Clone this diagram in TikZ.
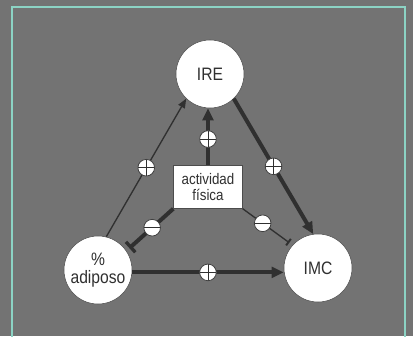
\documentclass[tikz,border=0pt]{standalone}
\usepackage{fontspec}
\setmainfont{Liberation Sans}[FakeStretch=0.87]
\usetikzlibrary{arrows.meta}

\definecolor{bggray}{RGB}{115,115,115}
\definecolor{framecol}{RGB}{140,211,196}
\definecolor{linecol}{RGB}{48,48,48}

\tikzset{
  var/.style={circle,draw=gray!60!black,fill=white,minimum size=51pt,inner sep=0pt,text=linecol,font=\fontsize{13.5}{13.5}\selectfont,align=center},
  factor/.style={rectangle,draw=gray!60!black,fill=white,minimum width=51.75pt,minimum height=32.25pt,inner sep=0pt,text=linecol,font=\fontsize{11.5}{12}\selectfont,align=center},
  sign/.style={circle,draw=gray!50!black,fill=white,minimum size=12.5pt,inner sep=0pt,line width=0.6pt},
  signline/.style={-,shorten >=0pt,shorten <=0pt,draw=linecol,line width=0.6pt},
  plussign/.style={sign,path picture={\draw[signline]
      (path picture bounding box.north) -- (path picture bounding box.south)
      (path picture bounding box.west) -- (path picture bounding box.east);}},
  minussign/.style={sign,path picture={\draw[signline]
      (path picture bounding box.west) -- (path picture bounding box.east);}},
  weak/.style={draw=linecol,line width=1pt},
  strong/.style={draw=linecol,line width=3pt},
  promote/.style={-{Triangle[length=7pt,width=5.5pt]}},
  promotestrong/.style={-{Triangle[length=9pt,width=8pt]}},
  inhibit/.style={-{Bar[width=6pt,line width=1.5pt]},shorten >=3pt},
  inhibitstrong/.style={-{Bar[width=10.5pt,line width=2.5pt]},shorten >=3pt},
}

\begin{document}
\begin{tikzpicture}[x=0.75pt,y=-0.75pt]

% background and frame
\clip (0,0) rectangle (413,336);
\useasboundingbox (0,0) rectangle (413,336);
\fill[bggray] (0,0) rectangle (413,336);
\draw[framecol,line width=1.5pt] (12,7) rectangle (405,350);

% variables
\node[var] (IRE) at (210,74) {IRE};
\node[var] (adip) at (98,270) {\%\\adiposo};
\node[var] (IMC) at (318,268) {IMC};
\node[factor] (act) at (208,187) {actividad\\física};

% links
\draw[weak,promote] (adip.76) -- (IRE.226) node[plussign,pos=0.5] (s1) {};
\draw[strong,promotestrong] (IRE.314) -- (IMC.98) node[plussign,pos=0.5] (s2) {};
\draw[strong,promotestrong] (adip.-4) -- (adip.-4 -| IMC.west) node[plussign,pos=0.5] (s3) {};
\draw[strong,promotestrong] (act.north) -- (act.north |- IRE.south) node[plussign,pos=0.46] (s4) {};
\draw[strong,inhibitstrong] (act.south west) -- (adip.34) node[minussign,pos=0.45] (s5) {};
\draw[weak,inhibit] (act.south east) -- (IMC.138) node[minussign,pos=0.4] (s6) {};

\end{tikzpicture}
\end{document}
